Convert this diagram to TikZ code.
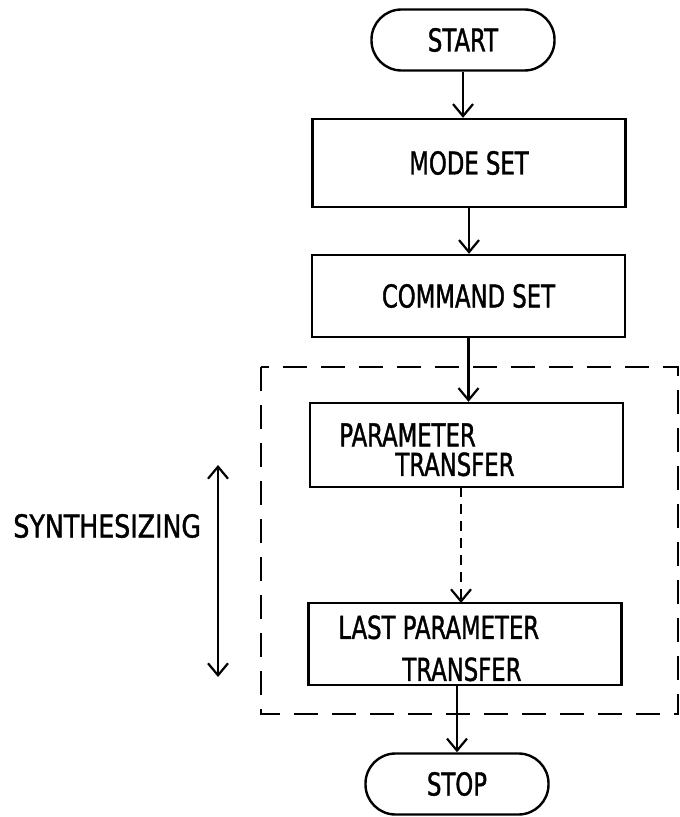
\documentclass[tikz,border=0pt]{standalone}
\usepackage{fontspec}
\newfontfamily\hand[FakeStretch=0.72,FakeBold=1.2]{DejaVu Sans}
\newfontfamily\handwide[FakeStretch=0.8,FakeBold=1.2]{DejaVu Sans}
\usetikzlibrary{arrows.meta}
\tikzset{
  txt/.style={font=\hand\fontsize{15.8}{18}\selectfont, inner sep=0pt},
  term/.style={draw, line width=1.2pt, rounded corners=15pt, minimum width=91.5pt, minimum height=30.5pt, inner sep=0pt, txt},
  box/.style={draw, line width=1.2pt, minimum width=156.5pt, minimum height=42pt, inner sep=0pt, txt},
  barb/.tip={Straight Barb[length=6pt,width=10pt,line width=1.1pt]},
  flow/.style={line width=1.2pt, -barb},
  frame/.style={line width=1.2pt, dash pattern=on 12pt off 7pt},
}
\begin{document}
\begin{tikzpicture}[x=0.5pt,y=-0.5pt]
\useasboundingbox (0,0) rectangle (679,817);
\node[term] (start) at (463,40) {START};
\node[box, minimum height=44pt] (mode) at (469,163) {MODE SET};
\node[box, minimum height=41pt] (cmd) at (468.5,296) {COMMAND SET};
\node[box] (param) at (466.5,445) {};
\node[txt, anchor=north west] (paramA) at (339,423) {PARAMETER};
\node[txt, anchor=north west] (paramB) at (395,452) {TRANSFER};
\node[box, minimum height=41pt] (last) at (465,644) {};
\node[txt, anchor=north west] (lastA) at (338,615) {LAST PARAMETER};
\node[txt, anchor=north west] (lastB) at (402,657) {TRANSFER};
\node[term] (stop) at (457,784) {STOP};
\coordinate (fa) at (261,367);
\coordinate (fb) at (678,714);
\draw[frame] (fa) rectangle (fb);
\draw[flow] (start) -- (start |- mode.north);
\draw[flow] (mode) -- (mode |- cmd.north);
\draw[flow] (cmd) -- (cmd |- param.north);
\draw[flow, dash pattern=on 5pt off 3.5pt] (461,487) -- (461,603);
\draw[flow] (stop |- last.south) -- (stop);
\node[txt, font=\handwide\fontsize{15.8}{18}\selectfont, anchor=west] (synth) at (13,526) {SYNTHESIZING};
\coordinate (sa) at (218,465);
\coordinate (sb) at (218,677);
\draw[line width=1.2pt, barb-barb] (sa) -- (sb);
\end{tikzpicture}
\end{document}
